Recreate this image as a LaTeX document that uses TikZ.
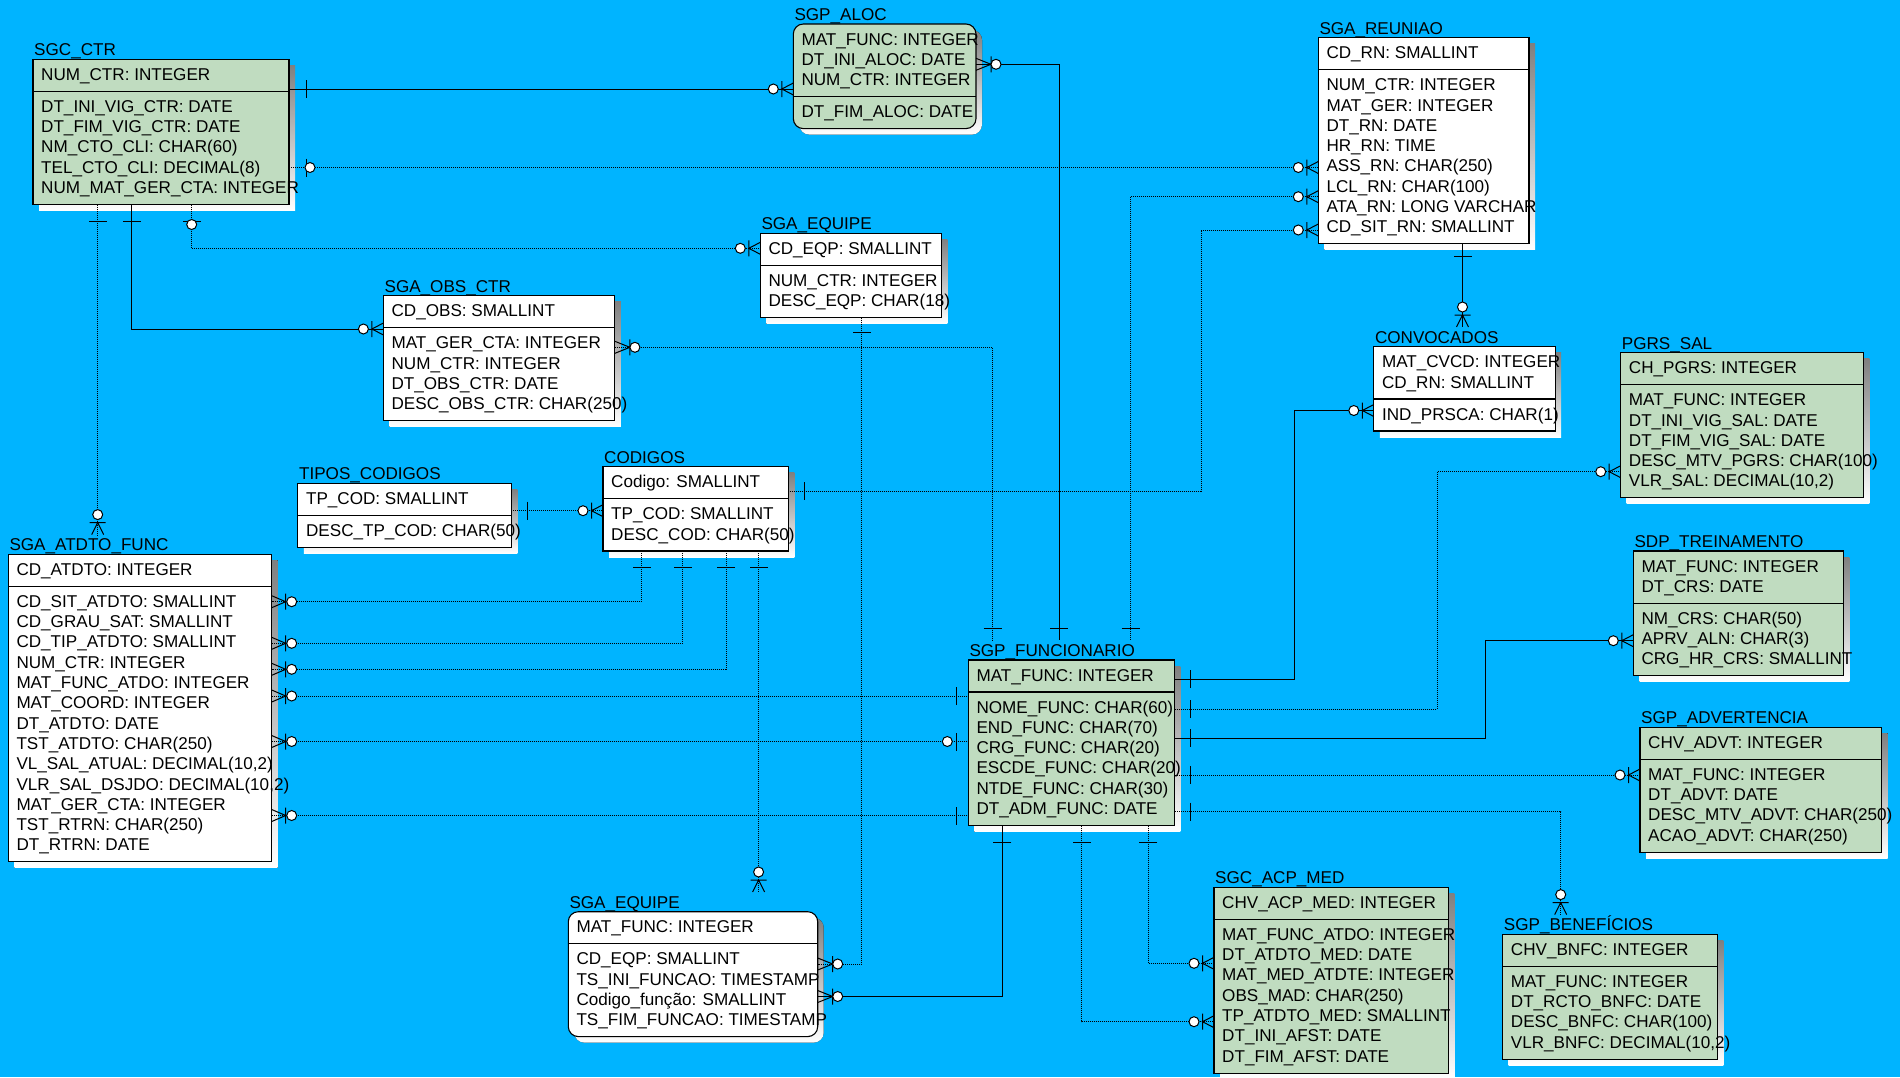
\documentclass[tikz,border=0pt]{standalone}
\usepackage{fontspec}
\setmainfont{Liberation Sans}
\usetikzlibrary{calc}
\definecolor{bgblue}{RGB}{0,180,255}
\definecolor{entgreen}{RGB}{192,220,192}
\definecolor{shade}{RGB}{104,104,104}
\newcommand\erfont{\fontsize{17.1}{20}\selectfont}
\newcount\erNK
\newcount\erNB
% table: #1 name, #2 left, #3 right, #4 top, #5 fill, #6 title, #7 key rows, #8 other rows, #9 corner style
\newcommand\erTable[9]{%
  \global\erNK=0 \foreach \rowtxt in {#7}{\global\advance\erNK by 1}%
  \global\erNB=0 \foreach \rowtxt in {#8}{\global\advance\erNB by 1}%
  \pgfmathsetmacro\erD{#4+32+20.3*(\the\erNK-1)}%
  \pgfmathsetmacro\erB{\erD+32+20.3*(\the\erNB-1)}%
  \pgfmathsetmacro\erW{#3-#2}%
  \pgfmathsetmacro\erH{\erB-#4}%
  \fill[shade,#9] ({#2+6},{#4+6}) rectangle ++(\erW,\erH);
  \node[erbox,fill=#5,#9,minimum width=\erW pt,minimum height=\erH pt,anchor=north west] (#1) at (#2,#4) {};
  \draw[erbox] (#1.west |- 0,\erD) -- (#1.east |- 0,\erD);
  \node[ertitle] (#1-title) at ({#2+1},{#4-3.5}) {#6};
  \foreach \rowtxt [count=\i] in {#7}{\node[ertext] (#1-k\i) at ({#2+8},{#4+21+20.3*(\i-1)}) {\rowtxt};}
  \foreach \rowtxt [count=\i] in {#8}{\node[ertext] (#1-a\i) at ({#2+8},{\erD+21+20.3*(\i-1)}) {\rowtxt};}
}
% relationship ends: point, outward direction, distance
\newcommand\erOne[3]{\begin{scope}[shift={#1},rotate=#2]
  \draw[symline] (#3,-9) -- (#3,9);\end{scope}}
\newcommand\erZeroOne[4]{\begin{scope}[shift={#1},rotate=#2]
  \draw[symline] (#3,-9) -- (#3,9);
  \draw[symline,fill=white] (#4,0) circle (5pt);\end{scope}}
\newcommand\erMany[3]{\begin{scope}[shift={#1},rotate=#2]
  \draw[symline] (0,-6) -- (#3,0) -- (0,6) (#3,-8) -- (#3,8);
  \draw[symline,fill=white] (20,0) circle (5pt);\end{scope}}

\begin{document}
\begin{tikzpicture}[x=1pt,y=-1pt,
  erbox/.style={draw=black,line width=1.1pt,inner sep=0pt,outer sep=0pt},
  ertitle/.style={anchor=base west,inner xsep=0pt,inner ysep=4pt,text height=12pt,text depth=3pt,font=\erfont},
  ertext/.style={anchor=base west,inner sep=0pt,font=\erfont},
  symline/.style={draw=black,line width=1pt},
  idrel/.style={draw=black,line width=1pt},
  nonid/.style={draw=black,line width=1pt,dash pattern=on 1pt off 1pt}]
\useasboundingbox (0,0) rectangle (1900,1077);
\fill[bgblue] (0,0) rectangle (1900,1077);

% ---------- tables ----------
\erTable{ctr}{33}{289}{59.3}{entgreen}{SGC\_CTR}{NUM\_CTR: INTEGER}
  {DT\_INI\_VIG\_CTR: DATE, DT\_FIM\_VIG\_CTR: DATE, NM\_CTO\_CLI: CHAR(60), TEL\_CTO\_CLI: DECIMAL(8), NUM\_MAT\_GER\_CTA: INTEGER}{sharp corners}
\erTable{aloc}{793.3}{976}{24}{entgreen}{SGP\_ALOC}{MAT\_FUNC: INTEGER, DT\_INI\_ALOC: DATE, NUM\_CTR: INTEGER}
  {DT\_FIM\_ALOC: DATE}{rounded corners=10pt}
\erTable{reun}{1318.3}{1529}{37.7}{white}{SGA\_REUNIAO}{CD\_RN: SMALLINT}
  {NUM\_CTR: INTEGER, MAT\_GER: INTEGER, DT\_RN: DATE, HR\_RN: TIME, ASS\_RN: CHAR(250), LCL\_RN: CHAR(100), ATA\_RN: LONG VARCHAR, CD\_SIT\_RN: SMALLINT}{sharp corners}
\erTable{eqp}{760.3}{941.4}{233.3}{white}{SGA\_EQUIPE}{CD\_EQP: SMALLINT}
  {NUM\_CTR: INTEGER, DESC\_EQP: CHAR(18)}{sharp corners}
\erTable{obs}{383.4}{614.9}{295.7}{white}{SGA\_OBS\_CTR}{CD\_OBS: SMALLINT}
  {MAT\_GER\_CTA: INTEGER, NUM\_CTR: INTEGER, DT\_OBS\_CTR: DATE, DESC\_OBS\_CTR: CHAR(250)}{sharp corners}
\erTable{tcod}{297.9}{511.4}{483.3}{white}{TIPOS\_CODIGOS}{TP\_COD: SMALLINT}
  {DESC\_TP\_COD: CHAR(50)}{sharp corners}
\erTable{cod}{603}{788.3}{466.7}{white}{CODIGOS}{Codigo: SMALLINT}
  {TP\_COD: SMALLINT, DESC\_COD: CHAR(50)}{sharp corners}
\erTable{atd}{8.3}{271.7}{554.3}{white}{SGA\_ATDTO\_FUNC}{CD\_ATDTO: INTEGER}
  {CD\_SIT\_ATDTO: SMALLINT, CD\_GRAU\_SAT: SMALLINT, CD\_TIP\_ATDTO: SMALLINT, NUM\_CTR: INTEGER, MAT\_FUNC\_ATDO: INTEGER, MAT\_COORD: INTEGER, DT\_ATDTO: DATE, TST\_ATDTO: CHAR(250), {VL\_SAL\_ATUAL: DECIMAL(10,2)}, {VLR\_SAL\_DSJDO: DECIMAL(10,2)}, MAT\_GER\_CTA: INTEGER, TST\_RTRN: CHAR(250), DT\_RTRN: DATE}{sharp corners}
\erTable{conv}{1373.8}{1555.2}{346.7}{white}{CONVOCADOS}{MAT\_CVCD: INTEGER, CD\_RN: SMALLINT}
  {IND\_PRSCA: CHAR(1)}{sharp corners}
\erTable{pgrs}{1620.7}{1863.4}{352.7}{entgreen}{PGRS\_SAL}{CH\_PGRS: INTEGER}
  {MAT\_FUNC: INTEGER, DT\_INI\_VIG\_SAL: DATE, DT\_FIM\_VIG\_SAL: DATE, DESC\_MTV\_PGRS: CHAR(100), {VLR\_SAL: DECIMAL(10,2)}}{sharp corners}
\erTable{trein}{1633.3}{1843.3}{551}{entgreen}{SDP\_TREINAMENTO}{MAT\_FUNC: INTEGER, DT\_CRS: DATE}
  {NM\_CRS: CHAR(50), APRV\_ALN: CHAR(3), CRG\_HR\_CRS: SMALLINT}{sharp corners}
\erTable{adv}{1640}{1881.7}{727.3}{entgreen}{SGP\_ADVERTENCIA}{CHV\_ADVT: INTEGER}
  {MAT\_FUNC: INTEGER, DT\_ADVT: DATE, DESC\_MTV\_ADVT: CHAR(250), ACAO\_ADVT: CHAR(250)}{sharp corners}
\erTable{func}{968.3}{1174.3}{660}{entgreen}{SGP\_FUNCIONARIO}{MAT\_FUNC: INTEGER}
  {NOME\_FUNC: CHAR(60), END\_FUNC: CHAR(70), CRG\_FUNC: CHAR(20), ESCDE\_FUNC: CHAR(20), NTDE\_FUNC: CHAR(30), DT\_ADM\_FUNC: DATE}{sharp corners}
\erTable{eqf}{568.3}{817.7}{911.7}{white}{SGA\_EQUIPE}{MAT\_FUNC: INTEGER}
  {CD\_EQP: SMALLINT, TS\_INI\_FUNCAO: TIMESTAMP, Codigo\_função: SMALLINT, TS\_FIM\_FUNCAO: TIMESTAMP}{rounded corners=10pt}
\erTable{acp}{1214}{1448.3}{887.3}{entgreen}{SGC\_ACP\_MED}{CHV\_ACP\_MED: INTEGER}
  {MAT\_FUNC\_ATDO: INTEGER, DT\_ATDTO\_MED: DATE, MAT\_MED\_ATDTE: INTEGER, OBS\_MAD: CHAR(250), TP\_ATDTO\_MED: SMALLINT, DT\_INI\_AFST: DATE, DT\_FIM\_AFST: DATE}{sharp corners}
\erTable{bnf}{1502.7}{1717.3}{934.3}{entgreen}{SGP\_BENEFÍCIOS}{CHV\_BNFC: INTEGER}
  {MAT\_FUNC: INTEGER, DT\_RCTO\_BNFC: DATE, DESC\_BNFC: CHAR(100), {VLR\_BNFC: DECIMAL(10,2)}}{sharp corners}

% ---------- relationship end points ----------
\coordinate (c1a) at (ctr.east |- 0,89);
\coordinate (c1b) at (aloc.west |- 0,89);
\coordinate (c2a) at (ctr.east |- 0,167.5);
\coordinate (c2b) at (reun.west |- 0,167.5);
\coordinate (c3a) at (ctr.south -| 191.7,0);
\coordinate (c3b) at (eqp.west |- 0,248.3);
\coordinate (c4a) at (ctr.south -| 131.7,0);
\coordinate (c4b) at (obs.west |- 0,329);
\coordinate (c5a) at (ctr.south -| 97.7,0);
\coordinate (c5b) at (atd-title.north -| 97.7,0);
\coordinate (c6a) at (aloc.east |- 0,64.3);
\coordinate (c6b) at (func-title.north -| 1059.3,0);
\coordinate (c7a) at (reun.west |- 0,196.7);
\coordinate (c7b) at (func-title.north -| 1130.7,0);
\coordinate (c8a) at (reun.west |- 0,230);
\coordinate (c8b) at (cod.east |- 0,491);
\coordinate (c9a) at (obs.east |- 0,347.3);
\coordinate (c9b) at (func-title.north -| 992.7,0);
\coordinate (c10a) at (eqp.south -| 861.8,0);
\coordinate (c10b) at (eqf.east |- 0,964);
\coordinate (c11a) at (tcod.east |- 0,510.7);
\coordinate (c11b) at (cod.west |- 0,510.7);
\coordinate (c12a) at (cod.south -| 641.6,0);
\coordinate (c12b) at (atd.east |- 0,601.7);
\coordinate (c13a) at (cod.south -| 682.9,0);
\coordinate (c13b) at (atd.east |- 0,643.3);
\coordinate (c14a) at (cod.south -| 726,0);
\coordinate (c14b) at (atd.east |- 0,669.3);
\coordinate (c15a) at (cod.south -| 758.6,0);
\coordinate (c15b) at (eqf-title.north -| 758.6,0);
\coordinate (c16a) at (atd.east |- 0,696);
\coordinate (c16b) at (func.west |- 0,696);
\coordinate (c17a) at (atd.east |- 0,741.5);
\coordinate (c17b) at (func.west |- 0,741.5);
\coordinate (c18a) at (atd.east |- 0,815.5);
\coordinate (c18b) at (func.west |- 0,815.5);
\coordinate (c19a) at (reun.south -| 1462.5,0);
\coordinate (c19b) at (conv-title.north -| 1462.5,0);
\coordinate (c20a) at (conv.west |- 0,410.5);
\coordinate (c20b) at (func.east |- 0,679.3);
\coordinate (c21a) at (pgrs.west |- 0,471.7);
\coordinate (c21b) at (func.east |- 0,709.3);
\coordinate (c22a) at (trein.west |- 0,640.7);
\coordinate (c22b) at (func.east |- 0,738.3);
\coordinate (c23a) at (adv.west |- 0,775);
\coordinate (c23b) at (func.east |- 0,775);
\coordinate (c24a) at (bnf-title.north -| 1560.7,0);
\coordinate (c24b) at (func.east |- 0,811.7);
\coordinate (c25a) at (func.south -| 1002.3,0);
\coordinate (c25b) at (eqf.east |- 0,996.5);
\coordinate (c26a) at (func.south -| 1081.7,0);
\coordinate (c26b) at (acp.west |- 0,1021.7);
\coordinate (c27a) at (func.south -| 1148.3,0);
\coordinate (c27b) at (acp.west |- 0,963.3);

% ---------- relationship lines ----------
\draw[idrel] (c1a) -- (c1b);
\draw[nonid] (c2a) -- (c2b);
\draw[nonid] (c3a) |- (c3b);
\draw[idrel] (c4a) |- (c4b);
\draw[nonid] (c5a) -- (c5b);
\draw[idrel] (c6a) -| (c6b);
\draw[nonid] (c7a) -| (c7b);
\draw[nonid] (c8a) -| (c8b -| 1201,0) -- (c8b);
\draw[nonid] (c9a) -| (c9b);
\draw[nonid] (c10a) |- (c10b);
\draw[nonid] (c11a) -- (c11b);
\draw[nonid] (c12a) |- (c12b);
\draw[nonid] (c13a) |- (c13b);
\draw[nonid] (c14a) |- (c14b);
\draw[nonid] (c15a) -- (c15b);
\draw[nonid] (c16a) -- (c16b);
\draw[nonid] (c17a) -- (c17b);
\draw[nonid] (c18a) -- (c18b);
\draw[idrel] (c19a) -- (c19b);
\draw[idrel] (c20a) -| (c20b -| 1294,0) -- (c20b);
\draw[nonid] (c21a) -| (c21b -| 1437,0) -- (c21b);
\draw[idrel] (c22a) -| (c22b -| 1485.5,0) -- (c22b);
\draw[nonid] (c23a) -- (c23b);
\draw[nonid] (c24a) |- (c24b);
\draw[idrel] (c25a) |- (c25b);
\draw[nonid] (c26a) |- (c26b);
\draw[nonid] (c27a) |- (c27b);

% ---------- cardinality marks ----------
\erOne{(c1a)}{0}{17}        \erMany{(c1b)}{180}{11.5}
\erZeroOne{(c2a)}{0}{17}{21} \erMany{(c2b)}{180}{11.5}
\erZeroOne{(c3a)}{-90}{16.5}{20} \erMany{(c3b)}{180}{11.5}
\erOne{(c4a)}{-90}{16.5}    \erMany{(c4b)}{180}{11.5}
\erOne{(c5a)}{-90}{16.5}    \erMany{(c5b)}{90}{12}
\erMany{(c6a)}{0}{15}       \erOne{(c6b)}{90}{12}
\erMany{(c7a)}{180}{11.5}   \erOne{(c7b)}{90}{12}
\erMany{(c8a)}{180}{11.5}   \erOne{(c8b)}{0}{16}
\erMany{(c9a)}{0}{15}       \erOne{(c9b)}{90}{12}
\erOne{(c10a)}{-90}{15}     \erMany{(c10b)}{0}{15}
\erOne{(c11a)}{0}{16}       \erMany{(c11b)}{180}{11.5}
\erOne{(c12a)}{-90}{16}     \erMany{(c12b)}{0}{14}
\erOne{(c13a)}{-90}{16}     \erMany{(c13b)}{0}{14}
\erOne{(c14a)}{-90}{16}     \erMany{(c14b)}{0}{14}
\erOne{(c15a)}{-90}{16}     \erMany{(c15b)}{90}{12}
\erMany{(c16a)}{0}{14}      \erOne{(c16b)}{180}{11.6}
\erMany{(c17a)}{0}{14}      \erZeroOne{(c17b)}{180}{11.6}{21}
\erMany{(c18a)}{0}{14}      \erOne{(c18b)}{180}{11.6}
\erOne{(c19a)}{-90}{13}     \erMany{(c19b)}{90}{12}
\erMany{(c20a)}{180}{11.5}  \erOne{(c20b)}{0}{15.7}
\erMany{(c21a)}{180}{11.5}  \erOne{(c21b)}{0}{15.7}
\erMany{(c22a)}{180}{11.5}  \erOne{(c22b)}{0}{15.7}
\erMany{(c23a)}{180}{11.5}  \erOne{(c23b)}{0}{15.7}
\erMany{(c24a)}{90}{12}     \erOne{(c24b)}{0}{15.7}
\erOne{(c25a)}{-90}{17}     \erMany{(c25b)}{0}{15}
\erOne{(c26a)}{-90}{17}     \erMany{(c26b)}{180}{11.5}
\erOne{(c27a)}{-90}{17}     \erMany{(c27b)}{180}{11.5}
\end{tikzpicture}
\end{document}
